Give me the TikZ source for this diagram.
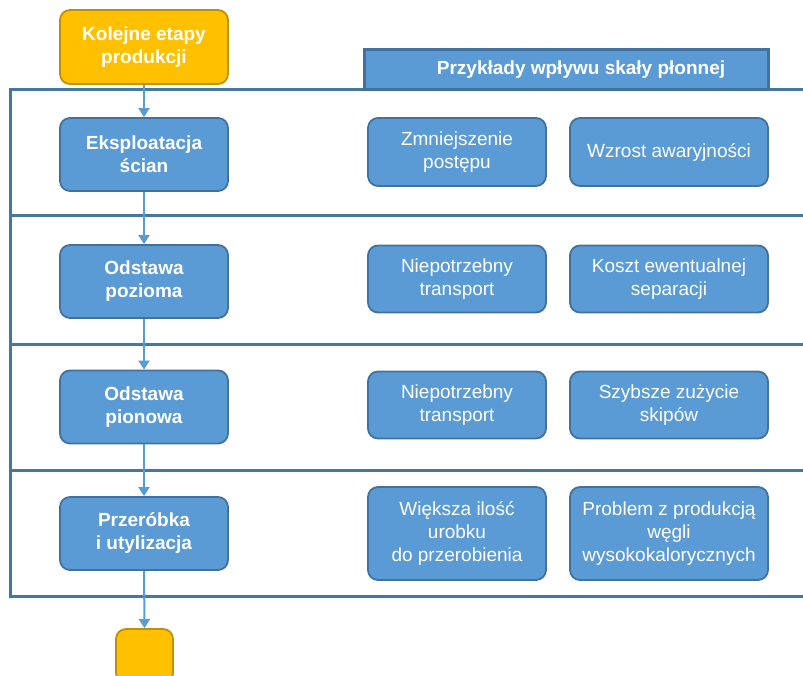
\documentclass[tikz,border=0pt]{standalone}
\usepackage{fontspec}
\setmainfont{Liberation Sans}
\usetikzlibrary{arrows.meta}
\definecolor{boxfill}{HTML}{5B9BD5}
\definecolor{boxline}{HTML}{41719C}
\definecolor{framecol}{HTML}{4577A5}
\definecolor{yfill}{HTML}{FFC000}
\definecolor{yline}{HTML}{BF9000}
\tikzset{
  stage/.style={rectangle, rounded corners=10pt, draw=boxline, fill=boxfill, line width=1.8pt,
    text=white, font=\fontsize{19}{23}\selectfont\bfseries, align=center,
    minimum width=168pt, minimum height=73pt, inner sep=0pt},
  effect/.style={rectangle, rounded corners=10pt, draw=boxline, fill=boxfill, line width=1.8pt,
    text=white, font=\fontsize{19}{23}\selectfont, align=center,
    minimum height=68pt, inner sep=0pt},
  ybox/.style={rectangle, rounded corners=10pt, draw=yline, fill=yfill, line width=1.8pt,
    text=white, font=\fontsize{19}{23}\selectfont\bfseries, align=center, inner sep=0pt},
  frameline/.style={draw=framecol, line width=3pt},
  arr/.style={draw=boxfill, line width=2pt, -{Triangle[length=9pt,width=11pt]}}
}
\begin{document}
\begin{tikzpicture}[x=1pt,y=-1pt]
\useasboundingbox (0,0) rectangle (803,676);
% frame
\draw[frameline] (806,90) -- (10,90) -- (10,596) -- (806,596);
\draw[frameline] (10,216) -- (806,216);
\draw[frameline] (10,344) -- (806,344);
\draw[frameline] (10,470) -- (806,470);
% header
\node[rectangle, draw=boxline, fill=boxfill, line width=3pt, minimum width=404pt, minimum height=40pt, inner sep=0pt] (hdr) at (566,70) {};
\node[text=white, font=\fontsize{19}{23}\selectfont\bfseries, inner sep=0pt] (hdrtxt) at (581,70) {Przykłady wpływu skały płonnej};
% left column
\node[ybox, minimum width=168pt, minimum height=74pt] (top) at (144,47) {Kolejne etapy\\produkcji};
\node[stage] (s1) at (144,154.5) {Eksploatacja\\ścian};
\node[stage] (s2) at (144,281.5) {Odstawa\\pozioma};
\node[stage] (s3) at (144,407) {Odstawa\\pionowa};
\node[stage] (s4) at (144,533.5) {Przeróbka\\i utylizacja};
\node[ybox, minimum width=57pt, minimum height=54pt] (end) at (144.5,656) {};
% right columns
\node[effect, minimum width=178pt] (a1) at (457,152) {Zmniejszenie\\postępu};
\node[effect, minimum width=198pt] (b1) at (669,152) {Wzrost awaryjności};
\node[effect, minimum width=178pt, minimum height=67pt] (a2) at (457,279) {Niepotrzebny\\transport};
\node[effect, minimum width=198pt, minimum height=67pt] (b2) at (669,279) {Koszt ewentualnej\\separacji};
\node[effect, minimum width=178pt, minimum height=67pt] (a3) at (457,405) {Niepotrzebny\\transport};
\node[effect, minimum width=198pt, minimum height=67pt] (b3) at (669,405) {Szybsze zużycie\\skipów};
\node[effect, minimum width=178pt, minimum height=93pt] (a4) at (457,533.5) {Większa ilość\\urobku\\do przerobienia};
\node[effect, minimum width=198pt, minimum height=93pt] (b4) at (669,533.5) {Problem z produkcją\\węgli\\wysokokalorycznych};
% arrows
\draw[arr] (top.south) -- (s1.north);
\draw[arr] (s1.south) -- (s2.north);
\draw[arr] (s2.south) -- (s3.north);
\draw[arr] (s3.south) -- (s4.north);
\draw[arr] (s4.south) -- (end.north);
\end{tikzpicture}
\end{document}
